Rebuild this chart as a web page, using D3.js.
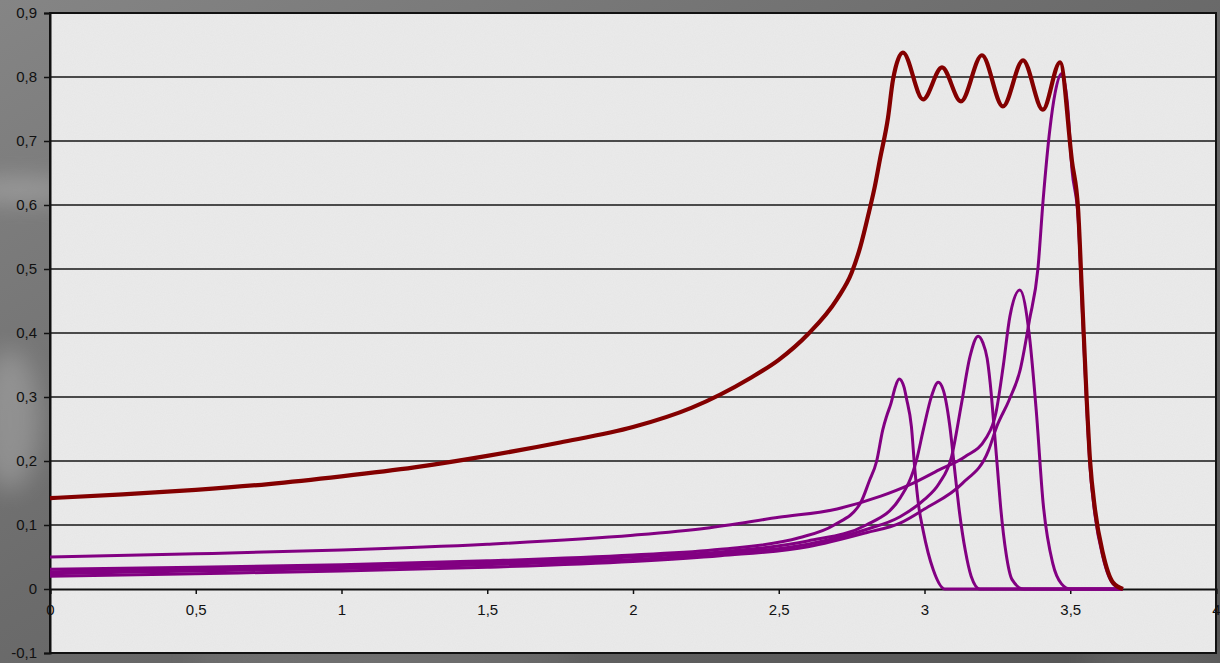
<!DOCTYPE html>
<html>
<head>
<meta charset="utf-8">
<script src="https://cdn.jsdelivr.net/npm/d3@7"></script>
<style>
  html, body { margin: 0; padding: 0; background: #666; }
  svg { display: block; }
</style>
</head>
<body>
<div id="chart"></div>
<script>
// tick values
const xTicks = [0, 0.5, 1, 1.5, 2, 2.5, 3, 3.5, 4];
const yTicks = [-0.1, 0, 0.1, 0.2, 0.3, 0.4, 0.5, 0.6, 0.7, 0.8, 0.9];

// total transmission (thick dark red)
const totalCurve = [
  [0, 0.142], [0.25, 0.148], [0.5, 0.155], [0.75, 0.164], [1.0, 0.176], [1.25, 0.19],
  [1.5, 0.208], [1.75, 0.229], [2.0, 0.253], [2.2, 0.283], [2.4, 0.329], [2.5, 0.358],
  [2.6, 0.398], [2.7, 0.453], [2.75, 0.494], [2.78, 0.535], [2.81, 0.59], [2.83, 0.63],
  [2.847, 0.671], [2.875, 0.737], [2.892, 0.796], [2.926, 0.838], [2.995, 0.765], [3.06, 0.815],
  [3.125, 0.762], [3.197, 0.834], [3.269, 0.754], [3.338, 0.826], [3.406, 0.749],
  [3.465, 0.823], [3.506, 0.668], [3.527, 0.593], [3.54, 0.463], [3.556, 0.3],
  [3.568, 0.2], [3.585, 0.124], [3.612, 0.056], [3.647, 0.01], [3.681, 0]
];

// individual channels (thin purple)
const channelA = [
  [0, 0.031], [0.5, 0.034], [1.0, 0.038], [1.5, 0.044], [2.0, 0.053], [2.3, 0.062],
  [2.57, 0.08], [2.69, 0.1], [2.78, 0.134], [2.81, 0.168], [2.836, 0.2], [2.857, 0.249],
  [2.87, 0.27], [2.885, 0.29], [2.9, 0.316], [2.913, 0.328], [2.93, 0.315], [2.938, 0.298],
  [2.955, 0.254], [2.967, 0.186], [2.98, 0.13], [2.995, 0.092], [3.03, 0.03], [3.07, 0], [3.68, 0]
];
const channelB = [
  [0, 0.027], [0.5, 0.031], [1.0, 0.035], [1.5, 0.041], [2.0, 0.05], [2.3, 0.058],
  [2.6, 0.075], [2.8, 0.1], [2.916, 0.142], [2.973, 0.202], [2.996, 0.249], [3.024, 0.301],
  [3.047, 0.323], [3.065, 0.31], [3.075, 0.29], [3.087, 0.254], [3.105, 0.18], [3.12, 0.12],
  [3.14, 0.06], [3.16, 0.02], [3.19, 0], [3.68, 0]
];
const channelC = [
  [0, 0.024], [0.5, 0.028], [1.0, 0.032], [1.5, 0.038], [2.0, 0.046], [2.3, 0.055],
  [2.6, 0.07], [2.8, 0.093], [2.916, 0.113], [3.0, 0.14], [3.05, 0.165], [3.093, 0.207],
  [3.127, 0.29], [3.156, 0.363], [3.184, 0.395], [3.2, 0.385], [3.215, 0.36], [3.23, 0.3],
  [3.24, 0.245], [3.25, 0.19], [3.26, 0.134], [3.28, 0.055], [3.3, 0.015], [3.34, 0], [3.68, 0]
];
const channelD = [
  [0, 0.05], [0.5, 0.055], [1.0, 0.061], [1.5, 0.07], [2.0, 0.084], [2.25, 0.095],
  [2.5, 0.112], [2.7, 0.125], [2.85, 0.145], [2.95, 0.163], [3.05, 0.186], [3.14, 0.207],
  [3.21, 0.235], [3.245, 0.275], [3.27, 0.348], [3.293, 0.426], [3.327, 0.467], [3.36, 0.395],
  [3.384, 0.275], [3.407, 0.134], [3.44, 0.04], [3.47, 0.008], [3.5, 0], [3.68, 0]
];
const channelE = [
  [0, 0.02], [0.5, 0.024], [1.0, 0.028], [1.5, 0.034], [2.0, 0.043], [2.3, 0.052],
  [2.6, 0.066], [2.8, 0.088], [2.916, 0.103], [3.0, 0.125], [3.13, 0.165], [3.22, 0.217],
  [3.248, 0.254], [3.29, 0.295], [3.328, 0.342], [3.36, 0.42], [3.389, 0.5], [3.407, 0.608],
  [3.43, 0.718], [3.448, 0.775], [3.47, 0.805], [3.49, 0.76], [3.506, 0.655], [3.527, 0.58],
  [3.54, 0.45], [3.556, 0.29], [3.568, 0.19], [3.585, 0.115], [3.612, 0.05], [3.647, 0.008], [3.681, 0]
];
const channels = [channelA, channelB, channelC, channelD, channelE];

const width = 1220, height = 663;
const margin = { top: 13, right: 4, bottom: 10, left: 50 };

const svg = d3.select("#chart").append("svg")
  .attr("width", width)
  .attr("height", height);

const defs = svg.append("defs");
const bg = defs.append("linearGradient")
  .attr("id", "bgGrad")
  .attr("x1", 0).attr("y1", 0).attr("x2", 1).attr("y2", 1);
bg.append("stop").attr("offset", "0%").attr("stop-color", "#858585");
bg.append("stop").attr("offset", "45%").attr("stop-color", "#6c6c6c");
bg.append("stop").attr("offset", "100%").attr("stop-color", "#545454");

const blur = defs.append("filter").attr("id", "soft")
  .attr("x", "-50%").attr("y", "-50%").attr("width", "200%").attr("height", "200%");
blur.append("feGaussianBlur").attr("stdDeviation", 12);

// textured paper look for the plot area
const paper = defs.append("filter").attr("id", "paper");
paper.append("feTurbulence")
  .attr("type", "fractalNoise")
  .attr("baseFrequency", 0.9)
  .attr("numOctaves", 2)
  .attr("seed", 3)
  .attr("result", "noise");
paper.append("feColorMatrix")
  .attr("in", "noise")
  .attr("type", "matrix")
  .attr("values", "0 0 0 0 0.5  0 0 0 0 0.5  0 0 0 0 0.5  0 0 0 0.12 0")
  .attr("result", "tint");
paper.append("feComposite").attr("in", "tint").attr("in2", "SourceGraphic").attr("operator", "in").attr("result", "tex");
paper.append("feMerge").call(m => {
  m.append("feMergeNode").attr("in", "SourceGraphic");
  m.append("feMergeNode").attr("in", "tex");
});

svg.append("rect")
  .attr("width", width).attr("height", height)
  .attr("fill", "url(#bgGrad)");

// a few light streaks of the background photo
const streaks = svg.append("g").attr("filter", "url(#soft)").attr("opacity", 0.45);
streaks.append("ellipse").attr("cx", 20).attr("cy", 190).attr("rx", 60).attr("ry", 10).attr("fill", "#cfcfcf");
streaks.append("ellipse").attr("cx", 10).attr("cy", 420).attr("rx", 30).attr("ry", 70).attr("fill", "#b5b5b5");
streaks.append("ellipse").attr("cx", 380).attr("cy", 660).attr("rx", 200).attr("ry", 8).attr("fill", "#9a9a9a");
streaks.append("ellipse").attr("cx", 1160).attr("cy", 662).attr("rx", 80).attr("ry", 6).attr("fill", "#a0a0a0");

const x = d3.scaleLinear()
  .domain([0, 4])
  .range([margin.left, width - margin.right]);
const y = d3.scaleLinear()
  .domain([-0.1, 0.9])
  .range([height - margin.bottom, margin.top]);

const fmt = d => d === 0 ? "0" : String(d).replace(".", ",");

svg.append("rect")
  .attr("x", x(0)).attr("y", y(0.9))
  .attr("width", x(4) - x(0)).attr("height", y(-0.1) - y(0.9))
  .attr("fill", "#ebebeb")
  .attr("filter", "url(#paper)");

// horizontal grid lines
svg.append("g")
  .selectAll("line")
  .data(yTicks.filter(v => v > 0 && v < 0.9))
  .join("line")
  .attr("x1", x(0)).attr("x2", x(4))
  .attr("y1", d => y(d)).attr("y2", d => y(d))
  .attr("stroke", "#161616")
  .attr("stroke-width", 1.5);

// plot border
svg.append("rect")
  .attr("x", x(0)).attr("y", y(0.9))
  .attr("width", x(4) - x(0)).attr("height", y(-0.1) - y(0.9))
  .attr("fill", "none")
  .attr("stroke", "#111")
  .attr("stroke-width", 2);

// axes drawn by hand-tuned D3 axis generators, then labels restyled
const yAxis = svg.append("g")
  .attr("transform", `translate(${x(0)},0)`)
  .call(d3.axisLeft(y).tickValues(yTicks).tickFormat(fmt).tickSize(6).tickPadding(7));

const xAxis = svg.append("g")
  .attr("transform", `translate(0,${y(0)})`)
  .call(d3.axisBottom(x).tickValues(xTicks).tickFormat(fmt).tickSize(5).tickPadding(10));

[yAxis, xAxis].forEach(ax => {
  ax.attr("font-size", 15).attr("font-family", "Liberation Sans, Arial, sans-serif");
  ax.select(".domain").attr("stroke", "#111").attr("stroke-width", 2);
  ax.selectAll(".tick line").attr("stroke", "#111").attr("stroke-width", 1.5);
  ax.selectAll(".tick text")
    .attr("fill", "#111")
    .attr("font-size", 15);
});

const line = d3.line()
  .x(d => x(d[0]))
  .y(d => y(d[1]))
  .curve(d3.curveMonotoneX);

svg.append("g")
  .selectAll("path")
  .data(channels)
  .join("path")
  .attr("d", line)
  .attr("fill", "none")
  .attr("stroke", "#820082")
  .attr("stroke-width", 3)
  .attr("stroke-linejoin", "round");

svg.append("path")
  .datum(totalCurve)
  .attr("d", line)
  .attr("fill", "none")
  .attr("stroke", "#830000")
  .attr("stroke-width", 4.2)
  .attr("stroke-linejoin", "round");
</script>
</body>
</html>
